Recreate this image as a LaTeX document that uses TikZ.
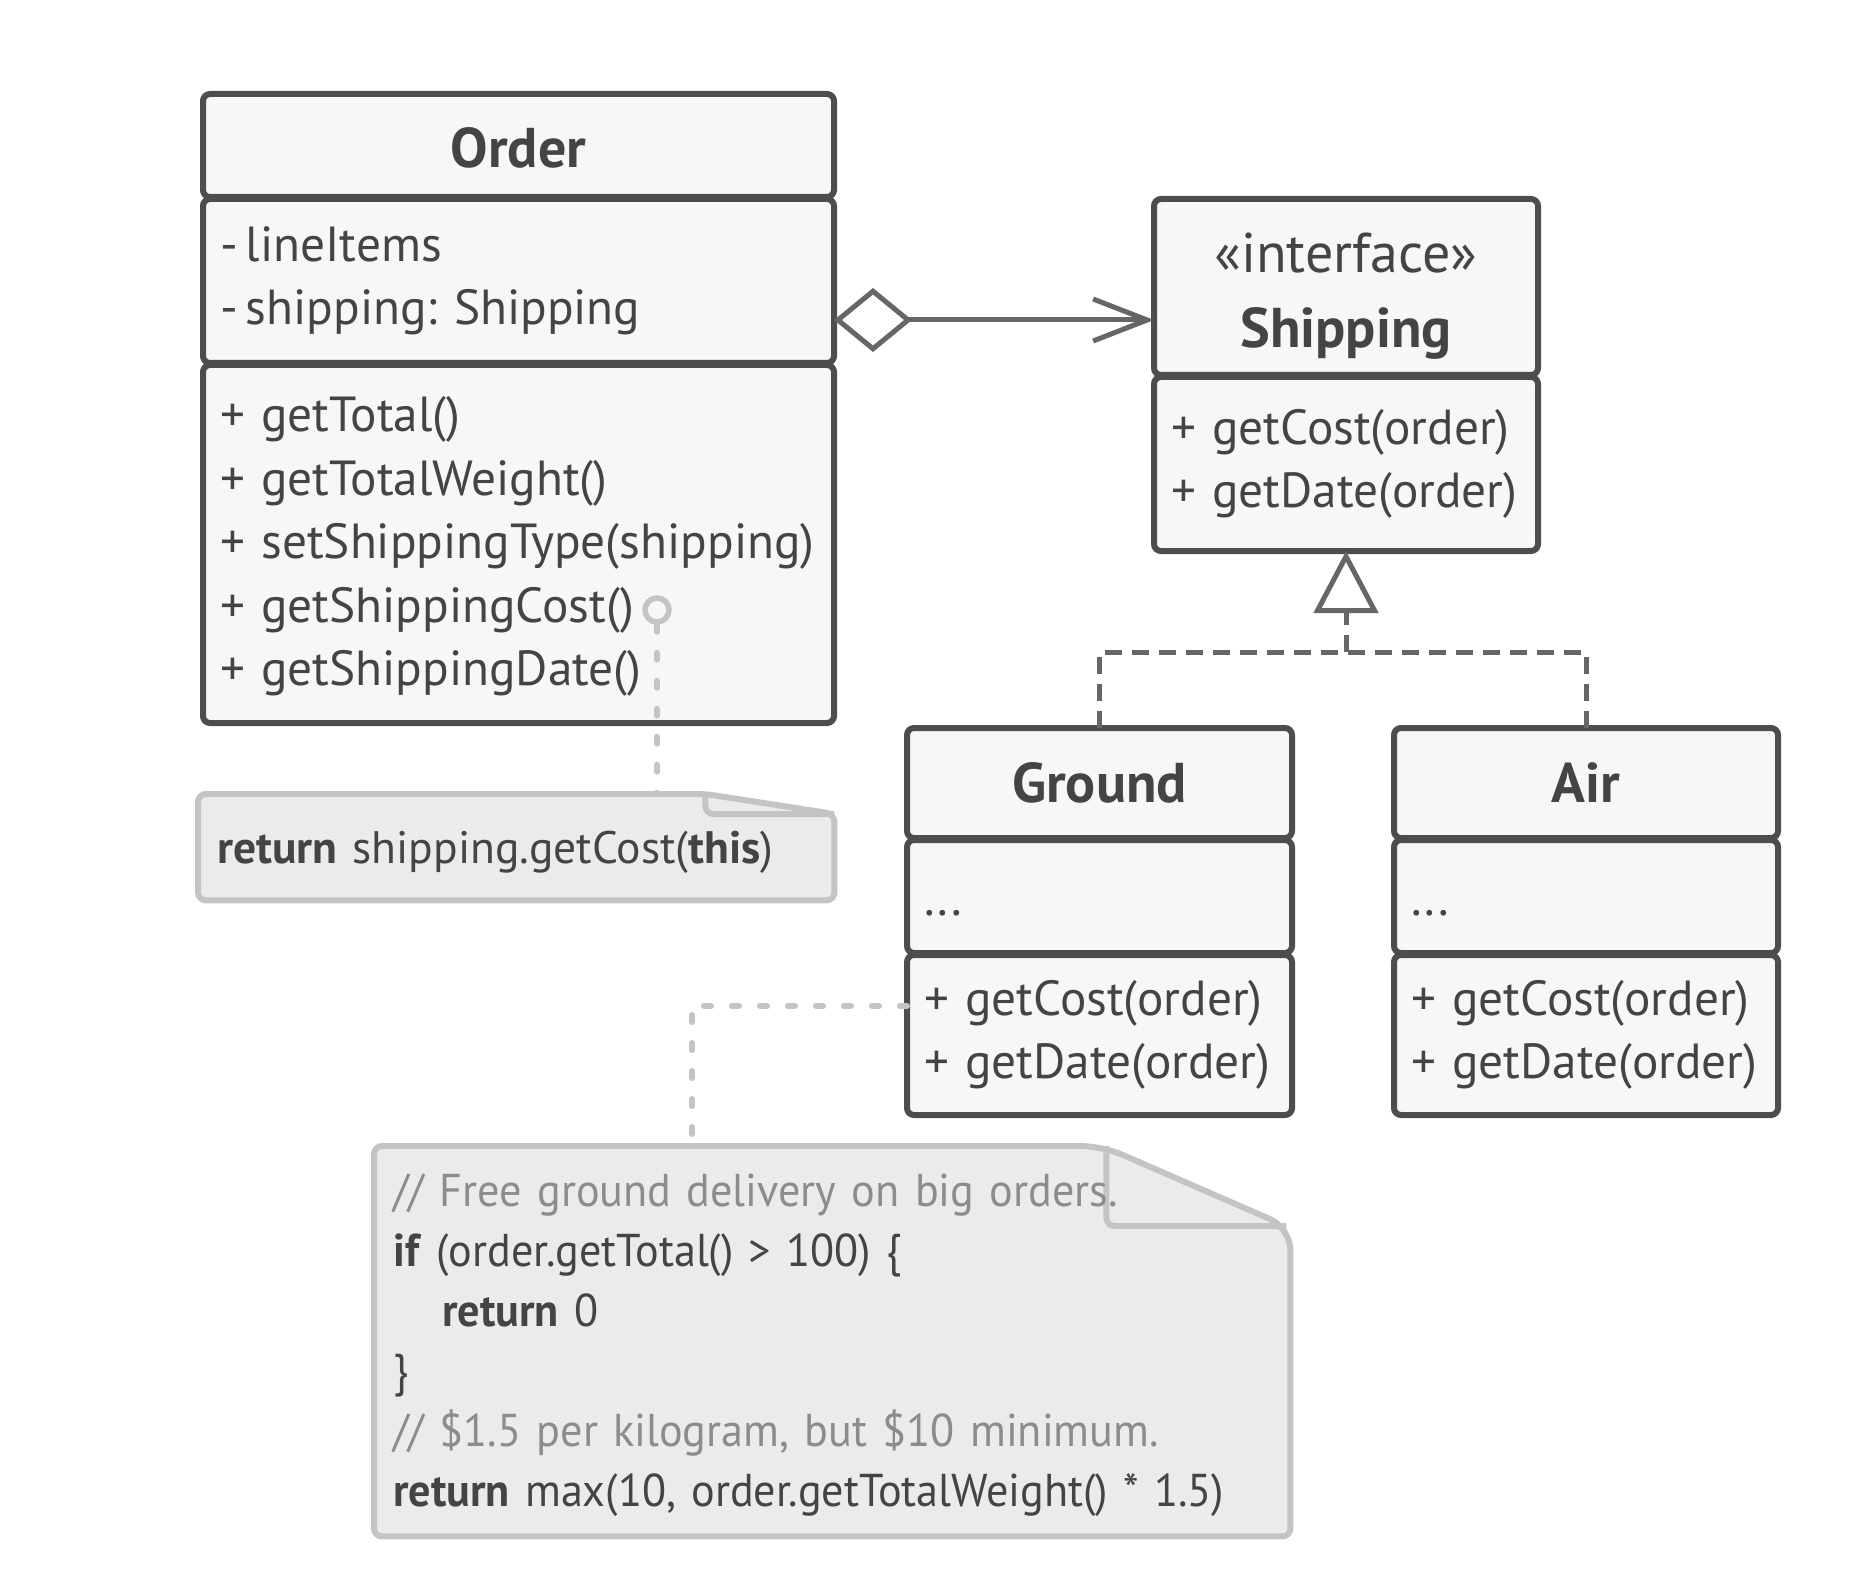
\documentclass[tikz,border=0pt]{standalone}
\usepackage{fontspec}
\setmainfont{PT Sans}
\newfontfamily\narrowfamily{PT Sans}[FakeStretch=0.96]
\usetikzlibrary{arrows.meta,positioning,calc,backgrounds}
\definecolor{umlline}{HTML}{4D4D4D}
\definecolor{umlfill}{HTML}{F7F7F7}
\definecolor{umltext}{HTML}{444444}
\definecolor{linkgray}{HTML}{666666}
\definecolor{memoline}{HTML}{C4C4C4}
\definecolor{memofill}{HTML}{EBEBEB}
\definecolor{memocomment}{HTML}{8C8C8C}
\newcommand{\classfont}{\fontsize{56}{68}\selectfont\bfseries}
\newcommand{\memberfont}{\fontsize{49.3}{63.5}\selectfont}
\newcommand{\memofont}{\fontsize{45.5}{60}\selectfont}
\newcommand{\codefont}{\narrowfamily\fontsize{46}{60}\selectfont}
\newcommand{\kw}[1]{\textbf{#1}}
\newcommand{\cmt}[1]{\textcolor{memocomment}{#1}}
\frenchspacing

\begin{document}
\begin{tikzpicture}[
    x=1pt, y=-1pt,
    cell/.style={draw=umlline, fill=umlfill, line width=6pt, rounded corners=7pt, anchor=north, outer sep=0pt, inner xsep=17pt, inner ysep=0pt, text=umltext},
    headcell/.style={cell, align=center, font=\classfont},
    bodycell/.style={cell, align=left, font=\memberfont},
    aggr/.style={draw=linkgray, line width=5pt, {Diamond[open, length=78pt, width=64pt]}-{Straight Barb[length=54pt, width=42pt]}},
    impl/.style={draw=linkgray, line width=5pt, dash pattern=on 17pt off 10pt},
    memo/.style={draw=memoline, line width=6pt, line cap=round, dash pattern=on 7pt off 21pt},
    memobox/.style={anchor=north west, inner xsep=19pt, inner ysep=0pt, align=left, text=umltext},
    fold/.style={draw=memoline, fill=memofill, line width=6pt, rounded corners=8pt, line join=round},
    node distance=2pt
]
    \useasboundingbox (0,0) rectangle (1858,1594);

    % Order class
    \node[headcell, minimum width=631pt, minimum height=103pt] (order-head) at (518.5,94) {\rule{0pt}{44pt}Order};
    \node[bodycell, text width=597pt, minimum height=164pt, below=of order-head] (order-attr) {-\,lineItems\\-\,shipping: Shipping};
    \node[bodycell, text width=597pt, minimum height=358pt, below=of order-attr] (order-ops) {\rule{0pt}{40pt}+ getTotal()\\+ getTotalWeight()\\+ setShippingType(shipping)\\+ getShippingCost()\\+ getShippingDate()};

    % Shipping interface
    \node[headcell, minimum width=384pt, minimum height=176pt] (ship-head) at (1346,199) {\rule{0pt}{58pt}{\mdseries «interface»}\\[7pt]Shipping};
    \node[bodycell, text width=350pt, minimum height=174pt, below=of ship-head] (ship-ops) {+ getCost(order)\\+ getDate(order)};

    % Concrete strategies
    \node[headcell, minimum width=385pt, minimum height=110pt] (ground-head) at (1099.5,728) {Ground};
    \node[bodycell, text width=351pt, minimum height=113pt, below=of ground-head] (ground-attr) {\rule{0pt}{38pt}...};
    \node[bodycell, text width=351pt, minimum height=160pt, below=of ground-attr] (ground-ops) {+ getCost(order)\\+ getDate(order)};

    \node[headcell, minimum width=384pt, minimum height=110pt] (air-head) at (1586,728) {Air};
    \node[bodycell, text width=350pt, minimum height=113pt, below=of air-head] (air-attr) {\rule{0pt}{38pt}...};
    \node[bodycell, text width=350pt, minimum height=160pt, below=of air-attr] (air-ops) {+ getCost(order)\\+ getDate(order)};

    % Notes
    \node[memobox, font=\memofont, text width=598pt, minimum height=106pt] (cost-note) at (198,794) {\rule{0pt}{42pt}\kw{return} shipping.getCost(\kw{this})};
    \node[memobox, font=\codefont, text width=878pt, minimum height=390pt] (ground-note) at (374,1146) {%
        \rule{0pt}{40pt}\cmt{// Free ground delivery on big orders.}\\
        \kw{if} (order.getTotal() > 100) \{\\
        \hspace*{49pt}\kw{return} 0\\
        \}\\
        \cmt{// \$1.5 per kilogram, but \$10 minimum.}\\
        \kw{return} max(10, order.getTotalWeight() * 1.5)};

    \begin{scope}[on background layer]
        \fill[white] (0,0) rectangle (1858,1594);
        \draw[fold] (cost-note.north west) -- ($(cost-note.north east)+(-129,0)$) -- ($(cost-note.north east)+(0,20)$) -- (cost-note.south east) -- (cost-note.south west) -- cycle;
        \draw[fold, fill=none] ($(cost-note.north east)+(-129,0)$) |- ($(cost-note.north east)+(0,20)$);
        \draw[fold] (ground-note.south west) -- (ground-note.north west) [rounded corners=22pt] -- ($(ground-note.north east)+(-188,0)$) -- ($(ground-note.north east)+(0,82)$) [rounded corners=8pt] -- (ground-note.south east) -- cycle;
        \draw[fold, fill=none] ($(ground-note.north east)+(-184,0)$) |- ($(ground-note.north east)+(-4,80)$);
    \end{scope}

    % Aggregation
    \coordinate (agg-from) at ([yshift=-39pt]order-attr.east);
    \draw[aggr] (agg-from) -- (agg-from -| ship-head.west);

    % Realization
    \coordinate[below=101pt of ship-ops.south] (fork);
    \draw[impl] (ground-head.north) |- (fork);
    \draw[impl] (air-head.north) |- (fork);
    \draw[impl, -{Triangle[open, length=62pt, width=64pt]}] (fork) -- (ship-ops.south);

    % Note links
    \node[draw=memoline, line width=5.5pt, circle, minimum size=24pt, inner sep=0pt] (lolly) at (657,610) {};
    \draw[memo] (lolly.south) -- (lolly.south |- cost-note.north);
    \coordinate (code-link) at ([xshift=318pt]ground-note.north west);
    \draw[memo] ([yshift=29pt]ground-ops.west) -| (code-link);
\end{tikzpicture}
\end{document}
